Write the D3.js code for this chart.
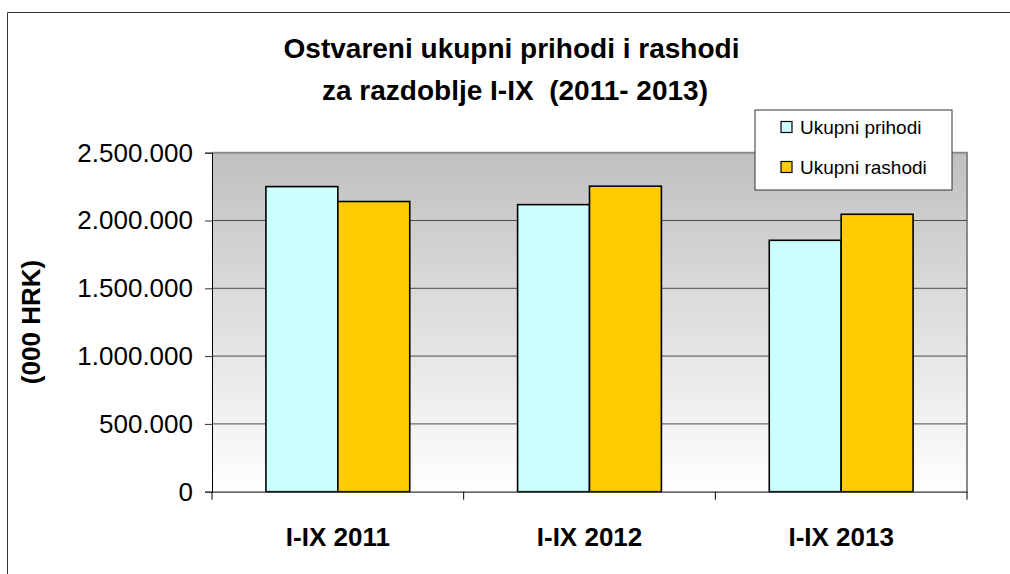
<!DOCTYPE html>
<html>
<head>
<meta charset="utf-8">
<script src="https://cdn.jsdelivr.net/npm/d3@7"></script>
<style>
  html, body { margin: 0; padding: 0; background: #fff; }
  svg { display: block; font-family: "Liberation Sans", Arial, sans-serif; }
</style>
</head>
<body>
<svg id="chart" width="1010" height="574"></svg>
<script>
const categories = ["I-IX 2011", "I-IX 2012", "I-IX 2013"];
const seriesNames = ["Ukupni prihodi", "Ukupni rashodi"];
const prihodi = [2250000, 2117000, 1854000];
const rashodi = [2140000, 2253000, 2046000];
const yTicks = [0, 500000, 1000000, 1500000, 2000000, 2500000];
const titleLines = ["Ostvareni ukupni prihodi i rashodi", "za razdoblje I-IX  (2011- 2013)"];
const yAxisTitle = "(000 HRK)";
const colors = ["#ccffff", "#ffcc00"];

const svg = d3.select("#chart");
const pLeft = 212, pRight = 967, pTop = 152.7, pBottom = 491.7;

const loc = d3.formatLocale({decimal: ",", thousands: ".", grouping: [3], currency: ["", ""]});
const fmt = loc.format(",");

const y = d3.scaleLinear().domain([0, 2500000]).range([pBottom, pTop]);
const x0 = d3.scaleBand().domain(categories).range([pLeft, pRight]).padding(0);
const x1 = d3.scaleBand().domain(seriesNames).range([0, x0.bandwidth()]).paddingInner(0).paddingOuter(0.75);

// outer frame (left and top only visible)
svg.append("path")
  .attr("d", "M7.5,574 V12.5 H1010")
  .attr("fill", "none").attr("stroke", "#333").attr("stroke-width", 1);

// gradient background
const defs = svg.append("defs");
const grad = defs.append("linearGradient").attr("id", "bg").attr("x1", 0).attr("y1", 0).attr("x2", 0).attr("y2", 1);
grad.append("stop").attr("offset", "0%").attr("stop-color", "#c0c0c0");
grad.append("stop").attr("offset", "100%").attr("stop-color", "#ffffff");

svg.append("rect")
  .attr("x", pLeft).attr("y", pTop)
  .attr("width", pRight - pLeft).attr("height", pBottom - pTop)
  .attr("fill", "url(#bg)");

// plot border top & right
svg.append("path")
  .attr("d", `M${pLeft},${pTop} H${pRight} V${pBottom}`)
  .attr("fill", "none").attr("stroke", "#8a8a8a").attr("stroke-width", 2);

// gridlines
svg.append("g").selectAll("line")
  .data(yTicks.filter(d => d > 0 && d < 2500000))
  .join("line")
  .attr("x1", pLeft).attr("x2", pRight)
  .attr("y1", d => y(d)).attr("y2", d => y(d))
  .attr("stroke", "#4a4a4a").attr("stroke-width", 1);

// bars
const series = [prihodi, rashodi];
const g = svg.append("g");
categories.forEach((c, i) => {
  seriesNames.forEach((s, j) => {
    g.append("rect")
      .attr("x", x0(c) + x1(s))
      .attr("y", y(series[j][i]))
      .attr("width", x1.bandwidth())
      .attr("height", y(0) - y(series[j][i]))
      .attr("fill", colors[j])
      .attr("stroke", "#000").attr("stroke-width", 1.6);
  });
});

// y axis
const yAxis = d3.axisLeft(y).tickValues(yTicks).tickFormat(fmt).tickSize(7).tickPadding(12);
const ya = svg.append("g").attr("transform", `translate(${pLeft},0)`).call(yAxis);
ya.select(".domain").attr("stroke", "#000").attr("stroke-width", 1);
ya.selectAll(".tick line").attr("stroke", "#333");
ya.selectAll(".tick text")
  .attr("font-family", "Liberation Sans, Arial, sans-serif")
  .attr("font-size", 26).attr("fill", "#000");

// x axis
const xAxis = d3.axisBottom(x0).tickSize(0).tickPadding(0);
const xa = svg.append("g").attr("transform", `translate(0,${pBottom})`).call(xAxis);
xa.select(".domain").attr("stroke", "#333").attr("stroke-width", 1.2);
xa.selectAll(".tick text")
  .attr("font-family", "Liberation Sans, Arial, sans-serif")
  .attr("font-size", 26).attr("font-weight", "bold").attr("fill", "#000")
  .attr("dy", 0).attr("y", 54);
// category separator ticks
svg.append("g").selectAll("line")
  .data([...categories.map(c => x0(c)), pRight])
  .join("line")
  .attr("x1", d => d).attr("x2", d => d)
  .attr("y1", pBottom).attr("y2", pBottom + 8)
  .attr("stroke", "#000").attr("stroke-width", 1);

// y axis title
svg.append("text")
  .attr("transform", `translate(40,322) rotate(-90)`)
  .attr("text-anchor", "middle")
  .attr("font-size", 26).attr("font-weight", "bold")
  .text(yAxisTitle);

// title
svg.append("g").selectAll("text")
  .data(titleLines)
  .join("text")
  .attr("x", (d, i) => i === 0 ? 511.5 : 515)
  .attr("y", (d, i) => 58 + i * 42)
  .attr("text-anchor", "middle")
  .attr("font-size", 28).attr("font-weight", "bold")
  .style("white-space", "pre")
  .text(d => d);

// legend
const lg = svg.append("g");
lg.append("rect")
  .attr("x", 755).attr("y", 110).attr("width", 197).attr("height", 80)
  .attr("fill", "#fff").attr("stroke", "#333").attr("stroke-width", 1);
seriesNames.forEach((s, j) => {
  const cy = 127 + j * 40;
  lg.append("rect")
    .attr("x", 781).attr("y", cy - 5.5).attr("width", 11).attr("height", 11)
    .attr("fill", colors[j]).attr("stroke", "#000").attr("stroke-width", 1.2);
  lg.append("text")
    .attr("x", 800).attr("y", cy).attr("dy", "0.35em")
    .attr("font-size", 19).text(s);
});
</script>
</body>
</html>
